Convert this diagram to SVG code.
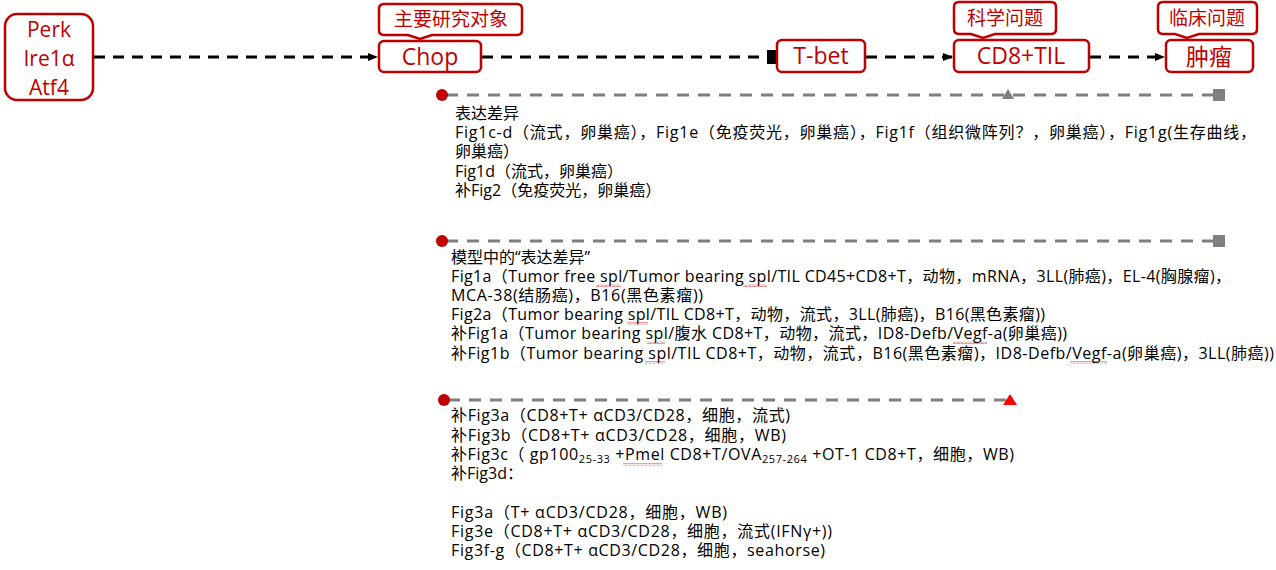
<svg xmlns="http://www.w3.org/2000/svg" width="1276" height="570" viewBox="0 0 1276 570">
<style>
.box{fill:#fff;stroke:#c00000;stroke-width:2.5}
.nt{font-family:"Open Sans","Noto Sans CJK SC",sans-serif;fill:#c00000;text-anchor:middle}
.ct{font-family:"Noto Sans CJK SC",sans-serif;fill:#c00000;text-anchor:middle;font-size:19px}
.blk{stroke:#000;stroke-width:3;stroke-dasharray:11 8;fill:none}
.gry{stroke:#7f7f7f;stroke-width:3;stroke-dasharray:12 9;fill:none}
.tx{font-family:"Open Sans","Noto Sans CJK SC",sans-serif;font-size:16px;fill:#000}
.dot{fill:#c00000}
.gfill{fill:#7f7f7f}
</style>
<defs>
<marker id="arr" markerWidth="10" markerHeight="10" refX="9" refY="5" orient="auto" markerUnits="userSpaceOnUse">
<path d="M0,1 L10,5 L0,9 Z" fill="#000"/>
</marker>
<pattern id="wave" width="4" height="3" patternUnits="userSpaceOnUse">
<path d="M0,2.5 L2,0.5 L4,2.5" fill="none" stroke="#e00000" stroke-width="0.8"/>
</pattern>
</defs>

<g id="connectors">
<line class="blk" x1="94" y1="57" x2="377" y2="57" marker-end="url(#arr)"/>
<line class="blk" x1="482" y1="57" x2="768" y2="57"/>
<rect x="767" y="50" width="9" height="14" fill="#000"/>
<line class="blk" x1="866" y1="57" x2="952" y2="57" marker-end="url(#arr)"/>
<line class="blk" x1="1090" y1="57" x2="1164" y2="57" marker-end="url(#arr)"/>
</g>

<g id="timelines">
<line class="gry" x1="446" y1="95" x2="1214" y2="95"/>
<circle class="dot" cx="442" cy="95" r="6"/>
<path class="gfill" d="M1002,99 L1008,89 L1014,99 Z"/>
<rect class="gfill" x="1213" y="89" width="12" height="12"/>

<line class="gry" x1="446" y1="241" x2="1214" y2="241"/>
<circle class="dot" cx="442" cy="241" r="6"/>
<rect class="gfill" x="1213" y="235" width="12" height="12"/>

<line class="gry" x1="448" y1="400" x2="1006" y2="400"/>
<circle class="dot" cx="444" cy="400" r="6"/>
<path d="M1003,405 L1010,394 L1017,405 Z" fill="#ff0000"/>
</g>

<g id="perk">
<rect class="box" x="5" y="14" width="88" height="86" rx="12"/>
<text class="nt" font-size="21" x="49" y="37">Perk</text>
<text class="nt" font-size="21" x="49" y="66">Ire1α</text>
<text class="nt" font-size="21" x="49" y="95">Atf4</text>
</g>

<g id="chop">
<rect class="box" x="379" y="41" width="102" height="31" rx="5"/>
<text class="nt" font-size="23" x="430" y="65">Chop</text>
</g>
<g id="callout-main">
<path class="box" d="M384,4 H517 Q522,4 522,9 V30 Q522,35 517,35 H432 L420,39 L408,35 H384 Q379,35 379,30 V9 Q379,4 384,4 Z"/>
<text class="ct" x="451" y="26">主要研究对象</text>
</g>

<g id="tbet">
<rect class="box" x="777" y="40" width="88" height="32" rx="5"/>
<text class="nt" font-size="23" x="821" y="64">T-bet</text>
</g>

<g id="cd8til">
<rect class="box" x="954" y="40" width="135" height="32" rx="5"/>
<text class="nt" font-size="23" x="1021" y="64">CD8+TIL</text>
</g>
<g id="callout-sci">
<path class="box" d="M959,2 H1051 Q1056,2 1056,7 V29 Q1056,34 1051,34 H995 L983,38 L971,34 H959 Q954,34 954,29 V7 Q954,2 959,2 Z"/>
<text class="ct" x="1005" y="25">科学问题</text>
</g>

<g id="tumor">
<rect class="box" x="1166" y="40" width="87" height="32" rx="5"/>
<text class="nt" font-size="23" x="1209" y="65">肿瘤</text>
</g>
<g id="callout-clin">
<path class="box" d="M1163,2 H1252 Q1257,2 1257,7 V29 Q1257,34 1252,34 H1199 L1187,38 L1175,34 H1163 Q1158,34 1158,29 V7 Q1158,2 1163,2 Z"/>
<text class="ct" x="1207" y="25">临床问题</text>
</g>

<g id="block1">
<text class="tx" x="455" y="119">表达差异</text>
<text class="tx" x="455" y="138" textLength="801" lengthAdjust="spacing">Fig1c-d（流式，卵巢癌），Fig1e（免疫荧光，卵巢癌），Fig1f（组织微阵列？，卵巢癌），Fig1g(生存曲线，</text>
<text class="tx" x="455" y="157">卵巢癌）</text>
<text class="tx" x="455" y="177">Fig1d（流式，卵巢癌）</text>
<text class="tx" x="455" y="196">补Fig2（免疫荧光，卵巢癌）</text>
</g>

<g id="block2">
<text class="tx" x="451" y="263">模型中的“表达差异”</text>
<text class="tx" x="451" y="282" textLength="780" lengthAdjust="spacing">Fig1a（Tumor free spl/Tumor bearing spl/TIL CD45+CD8+T，动物，mRNA，3LL(肺癌)，EL-4(胸腺瘤)，</text>
<text class="tx" x="451" y="301" textLength="252" lengthAdjust="spacing">MCA-38(结肠癌)，B16(黑色素瘤))</text>
<text class="tx" x="451" y="320" textLength="594" lengthAdjust="spacing">Fig2a（Tumor bearing spl/TIL CD8+T，动物，流式，3LL(肺癌)，B16(黑色素瘤))</text>
<text class="tx" x="451" y="339" textLength="616" lengthAdjust="spacing">补Fig1a（Tumor bearing spl/腹水 CD8+T，动物，流式，ID8-Defb/Vegf-a(卵巢癌))</text>
<text class="tx" x="451" y="359" textLength="823" lengthAdjust="spacing">补Fig1b（Tumor bearing spl/TIL CD8+T，动物，流式，B16(黑色素瘤)，ID8-Defb/Vegf-a(卵巢癌)，3LL(肺癌))</text>
</g>

<g id="spellmarks">
<rect x="596" y="284" width="25" height="3" fill="url(#wave)"/>
<rect x="743" y="284" width="24" height="3" fill="url(#wave)"/>
<rect x="627" y="322" width="21" height="3" fill="url(#wave)"/>
<rect x="647" y="341" width="18" height="3" fill="url(#wave)"/>
<rect x="953" y="341" width="34" height="3" fill="url(#wave)"/>
<rect x="645" y="361" width="20" height="3" fill="url(#wave)"/>
<rect x="1070" y="361" width="37" height="3" fill="url(#wave)"/>
<rect x="623" y="463" width="39" height="3" fill="url(#wave)"/>
</g>

<g id="block3">
<text class="tx" x="451" y="421" textLength="339" lengthAdjust="spacing">补Fig3a（CD8+T+ αCD3/CD28，细胞，流式)</text>
<text class="tx" x="451" y="441" textLength="335" lengthAdjust="spacing">补Fig3b（CD8+T+ αCD3/CD28，细胞，WB)</text>
<text class="tx" x="451" y="460" textLength="563" lengthAdjust="spacing">补Fig3c（ gp100<tspan font-size="11" dy="3">25-33</tspan><tspan dy="-3"> +Pmel CD8+T/OVA</tspan><tspan font-size="11" dy="3">257-264</tspan><tspan dy="-3"> +OT-1 CD8+T，细胞，WB)</tspan></text>
<text class="tx" x="451" y="479">补Fig3d：</text>
<text class="tx" x="451" y="518" textLength="276" lengthAdjust="spacing">Fig3a（T+ αCD3/CD28，细胞，WB)</text>
<text class="tx" x="451" y="537" textLength="381" lengthAdjust="spacing">Fig3e（CD8+T+ αCD3/CD28，细胞，流式(IFNγ+))</text>
<text class="tx" x="451" y="556" textLength="374" lengthAdjust="spacing">Fig3f-g（CD8+T+ αCD3/CD28，细胞，seahorse)</text>
</g>
</svg>
